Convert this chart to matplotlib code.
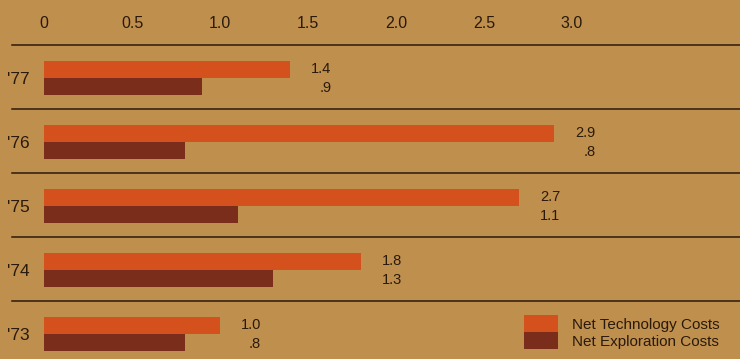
import matplotlib
matplotlib.use("Agg")
import matplotlib.pyplot as plt

years = ["'77", "'76", "'75", "'74", "'73"]
tech_costs = [1.4, 2.9, 2.7, 1.8, 1.0]
expl_costs = [0.9, 0.8, 1.1, 1.3, 0.8]
xticks = [0, 0.5, 1.0, 1.5, 2.0, 2.5, 3.0]
tick_labels = ["0", "0.5", "1.0", "1.5", "2.0", "2.5", "3.0"]
series_names = ["Net Technology Costs", "Net Exploration Costs"]

BG = "#bf8f4d"
ORANGE = "#d4501d"
DARK = "#7a2d1a"
INK = "#2a1a0c"

plt.rcParams["font.family"] = ["Liberation Sans", "DejaVu Sans"]

W, H = 740, 359
fig = plt.figure(figsize=(W / 100, H / 100), dpi=100, facecolor=BG)
# axes top sits on the first rule line (45 px from the top)
ax = fig.add_axes([0, 0, 1, 1 - 45 / H])
ax.set_facecolor("none")

# zero at x=44 px, ~176 px per unit; group centres 64 px apart
x0, scale = 44, 176
ax.set_xlim(-x0 / scale, (W - x0) / scale)
ax.set_ylim((H - 78) / 64, -33 / 64)

bh = 0.27
pos = list(range(len(years)))
ax.barh([p - bh / 2 for p in pos], tech_costs, height=bh, color=ORANGE,
        label=series_names[0])
ax.barh([p + bh / 2 for p in pos], expl_costs, height=bh, color=DARK,
        label=series_names[1])

# rule lines between the groups
for p in pos:
    ax.axhline(p - 33 / 64, xmin=12 / W, xmax=1, color=INK, lw=1.1,
               clip_on=False)

# value labels, right aligned a little past the longer bar
for p, t, e in zip(pos, tech_costs, expl_costs):
    xr = t + 41 / scale
    ax.text(xr, p - bh / 2, f"{t:.1f}".lstrip("0"), ha="right", va="center",
            fontsize=10.5, color=INK)
    ax.text(xr, p + bh / 2 + 0.02, f"{e:.1f}".lstrip("0"), ha="right",
            va="center", fontsize=10.5, color=INK)

# year labels at the left edge
for p, y in zip(pos, years):
    ax.text(7 / W, p + 0.02, y, transform=ax.get_yaxis_transform(),
            ha="left", va="center", fontsize=12.5, color=INK)

ax.xaxis.tick_top()
ax.set_xticks(xticks)
ax.set_xticklabels(tick_labels)
ax.tick_params(axis="x", length=0, pad=10, labelsize=11.5, labelcolor=INK)
ax.set_yticks([])
for s in ax.spines.values():
    s.set_visible(False)

ax.legend(loc="upper left", bbox_to_anchor=(524 / W, 1 - 315 / H),
          bbox_transform=fig.transFigure, frameon=False, fontsize=11,
          handlelength=2.2, handleheight=1.35, handletextpad=0.95,
          labelspacing=0, borderpad=0, borderaxespad=0, labelcolor=INK)

fig.savefig("out.png", dpi=100, facecolor=BG)
